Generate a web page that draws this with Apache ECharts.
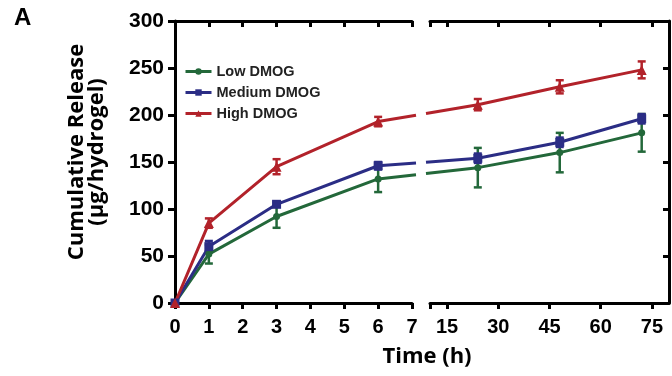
<!DOCTYPE html>
<html><head><meta charset="utf-8">
<script src="https://cdn.jsdelivr.net/npm/echarts@6/dist/echarts.min.js"></script>
<style>html,body{margin:0;padding:0;background:#fff}#c{width:672px;height:376px}</style>
</head><body><div id="c"></div>
<script>
// ---- data ----
var times = [0, 1, 3, 6, 24, 48, 72];
var seriesNames = ['Low DMOG', 'Medium DMOG', 'High DMOG'];
var lowMean = [0, 52, 92, 132, 144, 160, 181];
var lowErr = [0, 10, 12, 14, 21, 21, 20];
var medMean = [0, 60, 105, 146, 154, 171, 196];
var medErr = [0, 6, 2, 4, 5, 5, 5];
var highMean = [0, 85, 145, 193, 211, 230, 248];
var highErr = [0, 5, 8, 5, 6, 7, 9];
var yTicks = [0, 50, 100, 150, 200, 250, 300];
var xTicksLeft = [0, 1, 2, 3, 4, 5, 6, 7];
var xTicksRight = [15, 30, 45, 60, 75];
var leftMax = 7, rightMin = 10, rightMax = 80;

var colors = ['#23683a', '#2b2d85', '#b2222a'];
var symbols = ['circle', 'rect', 'triangle'];
var symSizes = [7, 9, 10];
var means = [lowMean, medMean, highMean];
var errs = [lowErr, medErr, highErr];

var chart = echarts.init(document.getElementById('c'), null, {renderer: 'canvas'});
var F = 'Liberation Sans, Arial, sans-serif';
var axisLineStyle = {color: '#000', width: 3};

function inLeft(t) { return t <= leftMax; }
function pts(m, side) {
  var out = [];
  times.forEach(function (t, i) { if (inLeft(t) === (side === 0)) out.push([t, m[i]]); });
  return out;
}
function errPts(m, e, side) {
  var out = [];
  times.forEach(function (t, i) { if (inLeft(t) === (side === 0)) out.push([t, m[i] - e[i], m[i] + e[i]]); });
  return out;
}

function errRender(color) {
  return function (params, api) {
    var x = api.value(0), lo = api.value(1), hi = api.value(2);
    if (hi - lo <= 0) return null;
    var p1 = api.coord([x, lo]), p2 = api.coord([x, hi]);
    var w = 4;
    var st = {stroke: color, lineWidth: 2.5};
    return {type: 'group', children: [
      {type: 'line', shape: {x1: p1[0], y1: p1[1], x2: p2[0], y2: p2[1]}, style: st},
      {type: 'line', shape: {x1: p1[0] - w, y1: p1[1], x2: p1[0] + w, y2: p1[1]}, style: st},
      {type: 'line', shape: {x1: p2[0] - w, y1: p2[1], x2: p2[0] + w, y2: p2[1]}, style: st}
    ]};
  };
}

// segment bridging the axis break: last left point -> first right point (drawn in pixel space)
function bridgeRender(color) {
  return function (params, api) {
    var p1 = api.coord([api.value(0), api.value(1)]);
    var p2 = chart.convertToPixel({xAxisIndex: 1, yAxisIndex: 1}, [api.value(2), api.value(3)]);
    var r0 = chart.convertToPixel({xAxisIndex: 1, yAxisIndex: 1}, [rightMin, 0]);
    if (!p2 || !r0) return null;
    var cs = params.coordSys;
    var gL = cs.x + cs.width + 4, gR = r0[0] - 4;
    function yAt(x) { return p1[1] + (p2[1] - p1[1]) * (x - p1[0]) / (p2[0] - p1[0]); }
    var st = {stroke: color, lineWidth: 3};
    return {type: 'group', children: [
      {type: 'line', shape: {x1: p1[0], y1: p1[1], x2: gL, y2: yAt(gL)}, style: st},
      {type: 'line', shape: {x1: gR, y1: yAt(gR), x2: p2[0], y2: p2[1]}, style: st}
    ]};
  };
}

var series = [];
for (var g = 0; g < 2; g++) {
  for (var s = 0; s < 3; s++) {
    series.push({
      type: 'custom', name: seriesNames[s] + ' err', xAxisIndex: g, yAxisIndex: g,
      clip: true, renderItem: errRender(colors[s]), data: errPts(means[s], errs[s], g), z: 3
    });
  }
  for (var s2 = 0; s2 < 3; s2++) {
    series.push({
      type: 'line', name: seriesNames[s2], xAxisIndex: g, yAxisIndex: g, clip: true,
      data: pts(means[s2], g), symbol: symbols[s2], symbolSize: symSizes[s2],
      itemStyle: {color: colors[s2]}, lineStyle: {color: colors[s2], width: 3},
      emphasis: {disabled: true}, animation: false, z: 4
    });
  }
}
for (var s3 = 0; s3 < 3; s3++) {
  var lastL = times.filter(inLeft).length - 1;
  series.push({
    type: 'custom', name: seriesNames[s3] + ' bridge', xAxisIndex: 0, yAxisIndex: 0, clip: false,
    renderItem: bridgeRender(colors[s3]),
    data: [[times[lastL], means[s3][lastL], times[lastL + 1], means[s3][lastL + 1]]], z: 4
  });
}

var option = {
  animation: false,
  grid: [
    {left: 175, right: 260, top: 21, bottom: 73},
    {left: 430, right: 3, top: 21, bottom: 73}
  ],
  xAxis: [
    {gridIndex: 0, type: 'value', position: 'bottom', min: 0, max: leftMax, interval: 1,
      axisLine: {lineStyle: axisLineStyle}, splitLine: {show: false},
      axisTick: {length: 6, lineStyle: {width: 3, color: '#000'}},
      axisLabel: {color: '#000', fontFamily: F, fontWeight: 'bold', fontSize: 20, margin: 14,
        customValues: xTicksLeft}},
    {gridIndex: 1, type: 'value', position: 'bottom', min: rightMin, max: rightMax,
      axisLine: {lineStyle: axisLineStyle}, splitLine: {show: false},
      axisTick: {length: 6, lineStyle: {width: 3, color: '#000'}, customValues: [rightMin].concat(xTicksRight)},
      axisLabel: {color: '#000', fontFamily: F, fontWeight: 'bold', fontSize: 20, margin: 14,
        customValues: xTicksRight}},
    {gridIndex: 0, type: 'value', position: 'top', min: 0, max: leftMax, interval: 1,
      axisLine: {lineStyle: axisLineStyle}, splitLine: {show: false},
      axisTick: {inside: true, length: 6, lineStyle: {width: 3, color: '#000'}},
      axisLabel: {show: false}},
    {gridIndex: 1, type: 'value', position: 'top', min: rightMin, max: rightMax,
      axisLine: {lineStyle: axisLineStyle}, splitLine: {show: false},
      axisTick: {inside: true, length: 6, lineStyle: {width: 3, color: '#000'}, customValues: [rightMin].concat(xTicksRight)},
      axisLabel: {show: false, customValues: xTicksRight}}
  ],
  yAxis: [
    {gridIndex: 0, type: 'value', position: 'left', min: 0, max: 300, interval: 50,
      axisLine: {show: true, lineStyle: axisLineStyle}, splitLine: {show: false},
      axisTick: {show: true, length: 7, lineStyle: {width: 3, color: '#000'}},
      axisLabel: {color: '#000', fontFamily: F, fontWeight: 'bold', fontSize: 21, margin: 11,
        customValues: yTicks}},
    {gridIndex: 1, type: 'value', position: 'right', min: 0, max: 300, interval: 50,
      axisLine: {show: true, lineStyle: axisLineStyle}, splitLine: {show: false},
      axisTick: {show: true, inside: true, length: 6, lineStyle: {width: 3, color: '#000'}},
      axisLabel: {show: false}}
  ],
  legend: {
    data: seriesNames.slice(),
    orient: 'vertical', left: 179, top: 59, itemGap: 6, itemWidth: 26, itemHeight: 8,
    lineStyle: {width: 3},
    textStyle: {fontFamily: F, fontWeight: 'bold', fontSize: 14.5, color: '#222'},
    selectedMode: false
  },
  graphic: [
    {type: 'text', left: 14, top: 6, style: {text: 'A', font: 'bold 24px ' + F, fill: '#000'}},
    {type: 'text', x: 427, y: 357, style: {text: 'Time (h)', font: 'bold 22px "Open Sans", ' + F,
      fill: '#000', textAlign: 'center', textVerticalAlign: 'middle'}},
    {type: 'text', x: 87, y: 152, rotation: Math.PI / 2,
      style: {text: 'Cumulative Release\n(µg/hydrogel)', font: 'bold 22px "Open Sans", ' + F,
        lineHeight: 20, fill: '#000', textAlign: 'center', textVerticalAlign: 'middle'}}
  ],
  series: series
};
chart.setOption(option);
</script></body></html>
